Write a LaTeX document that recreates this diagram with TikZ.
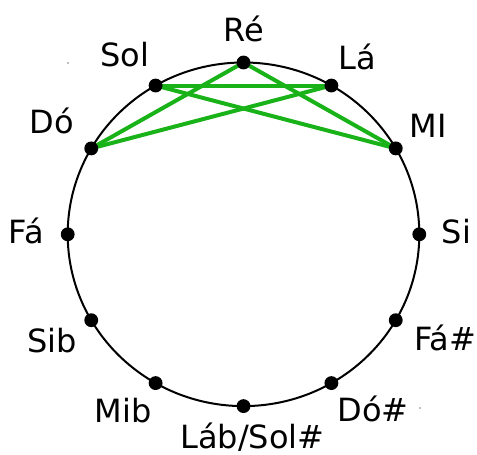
\documentclass[tikz,border=0pt]{standalone}
\usepackage{fontspec}
\setmainfont{DejaVu Sans}
\definecolor{pent}{RGB}{25,178,25}

\begin{document}
\begin{tikzpicture}[x=0.75pt, y=-0.75pt,
  note/.style={anchor=base, inner sep=0pt, font=\fontsize{24}{28}\selectfont},
  link/.style={draw=pent, line width=3pt},
  dot/.style={fill=black}]
\useasboundingbox (0,0) rectangle (477,454);
\draw[line width=1.5pt] (243.5,234.3) ellipse [x radius=175.8, y radius=171.8];
\begin{scope}[shift={(243.5,234.3)}]
\coordinate (re)  at (-90:175.8 and 171.8);
\coordinate (la)  at (-60:175.8 and 171.8);
\coordinate (mi)  at (-30:175.8 and 171.8);
\coordinate (si)  at (0:175.8 and 171.8);
\coordinate (fas) at (30:175.8 and 171.8);
\coordinate (dos) at (60:175.8 and 171.8);
\coordinate (lab) at (90:175.8 and 171.8);
\coordinate (mib) at (120:175.8 and 171.8);
\coordinate (sib) at (150:175.8 and 171.8);
\coordinate (fa)  at (180:175.8 and 171.8);
\coordinate (do)  at (210:175.8 and 171.8);
\coordinate (sol) at (240:175.8 and 171.8);
\end{scope}
% pentagram
\draw[link] (re) -- (do);
\draw[link] (re) -- (mi);
\draw[link] (sol) -- (la);
\draw[link] (sol) -- (mi);
\draw[link] (la) -- (do);
\foreach \p in {re,la,mi,si,fas,dos,lab,mib,sib,fa,do,sol}
  \fill[dot] (\p) circle[radius=5.2pt];
% labels
\node[note] (lre)  at (244,41.7)  {Ré};
\node[note] (lla)  at (357,69.3)  {Lá};
\node[note] (lmi)  at (428,137.7) {MI};
\node[note] (lsi)  at (456.5,243.3) {Si};
\node[note] (lfas) at (445,350.5) {Fá\#};
\node[note] (ldos) at (373,421.7) {Dó\#};
\node[note] (llab) at (252.5,448) {Láb/Sol\#};
\node[note] (lmib) at (123,422.7) {Mib};
\node[note] (lsib) at (52,352.5)  {Sib};
\node[note] (lfa)  at (26.5,243.3) {Fá};
\node[note] (ldo)  at (51.5,133.3) {Dó};
\node[note] (lsol) at (125,66)    {Sol};
% specks
\fill[gray] (68,63) circle[radius=0.6pt];
\fill[gray] (420,408) circle[radius=0.6pt];
\end{tikzpicture}
\end{document}
